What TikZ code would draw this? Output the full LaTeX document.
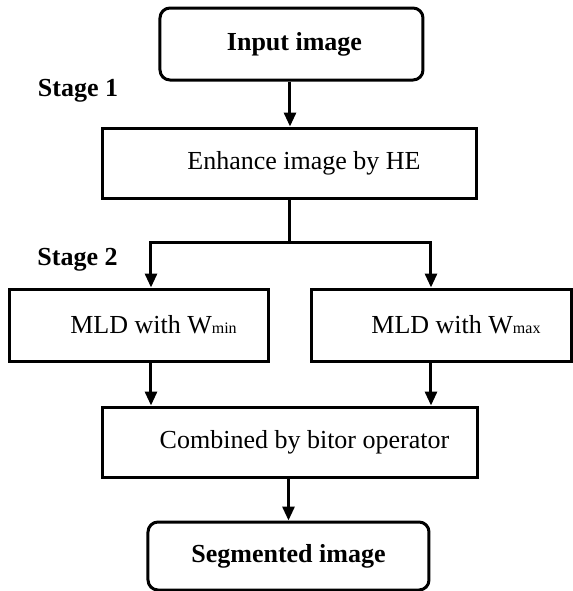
\documentclass[tikz,border=0pt]{standalone}
\usepackage{fontspec}
\setmainfont{Liberation Serif}
\usetikzlibrary{arrows.meta}
\tikzset{
  box/.style={draw=black, line width=1.5pt, inner sep=0pt, font=\fontsize{13}{15}\selectfont},
  roundbox/.style={box, rounded corners=5pt, font=\fontsize{13}{15}\selectfont\bfseries},
  stagelabel/.style={inner sep=0pt, font=\fontsize{13}{15}\selectfont\bfseries},
  conn/.style={line width=1.5pt},
  arr/.style={conn, -{Triangle[width=6pt,length=7pt]}}
}
\newcommand{\smallsub}[1]{{\fontsize{8}{8}\selectfont #1}}
\begin{document}
\begin{tikzpicture}[x=0.5pt,y=-0.5pt]
\useasboundingbox (0,0) rectangle (573,591);
\node[roundbox, minimum width=131.5pt, minimum height=36pt] (in) at (291.5,44) {\hspace*{3pt}Input image};
\node[stagelabel] (s1) at (78,91) {Stage 1};
\node[box, minimum width=187pt, minimum height=35pt] (enh) at (290,163) {\hspace*{14pt}Enhance image by HE};
\node[stagelabel] (s2) at (77.5,260) {Stage 2};
\node[box, minimum width=129.5pt, minimum height=36pt] (wmin) at (139.5,325) {\hspace*{14pt}MLD with W\smallsub{min}};
\node[box, minimum width=130pt, minimum height=36pt] (wmax) at (442,325) {\hspace*{14pt}MLD with W\smallsub{max}};
\node[box, minimum width=187.5pt, minimum height=35pt] (comb) at (290.5,442) {\hspace*{14pt}Combined by bitor operator};
\node[roundbox, minimum width=140.5pt, minimum height=34pt] (seg) at (288.5,556) {Segmented image};
\coordinate (jc) at (290,242);
\coordinate (jl) at (151,242);
\coordinate (jr) at (431,242);
\draw[arr] (in.south -| jc) -- (enh.north -| jc);
\draw[conn] (enh.south -| jc) -- (jc);
\draw[arr] (jc) -- (jl) -- (wmin.north -| jl);
\draw[arr] (jc) -- (jr) -- (wmax.north -| jr);
\draw[arr] (wmin.south -| jl) -- (comb.north -| jl);
\draw[arr] (wmax.south -| jr) -- (comb.north -| jr);
\draw[arr] (comb.south -| seg.north) -- (seg.north);
\end{tikzpicture}
\end{document}
